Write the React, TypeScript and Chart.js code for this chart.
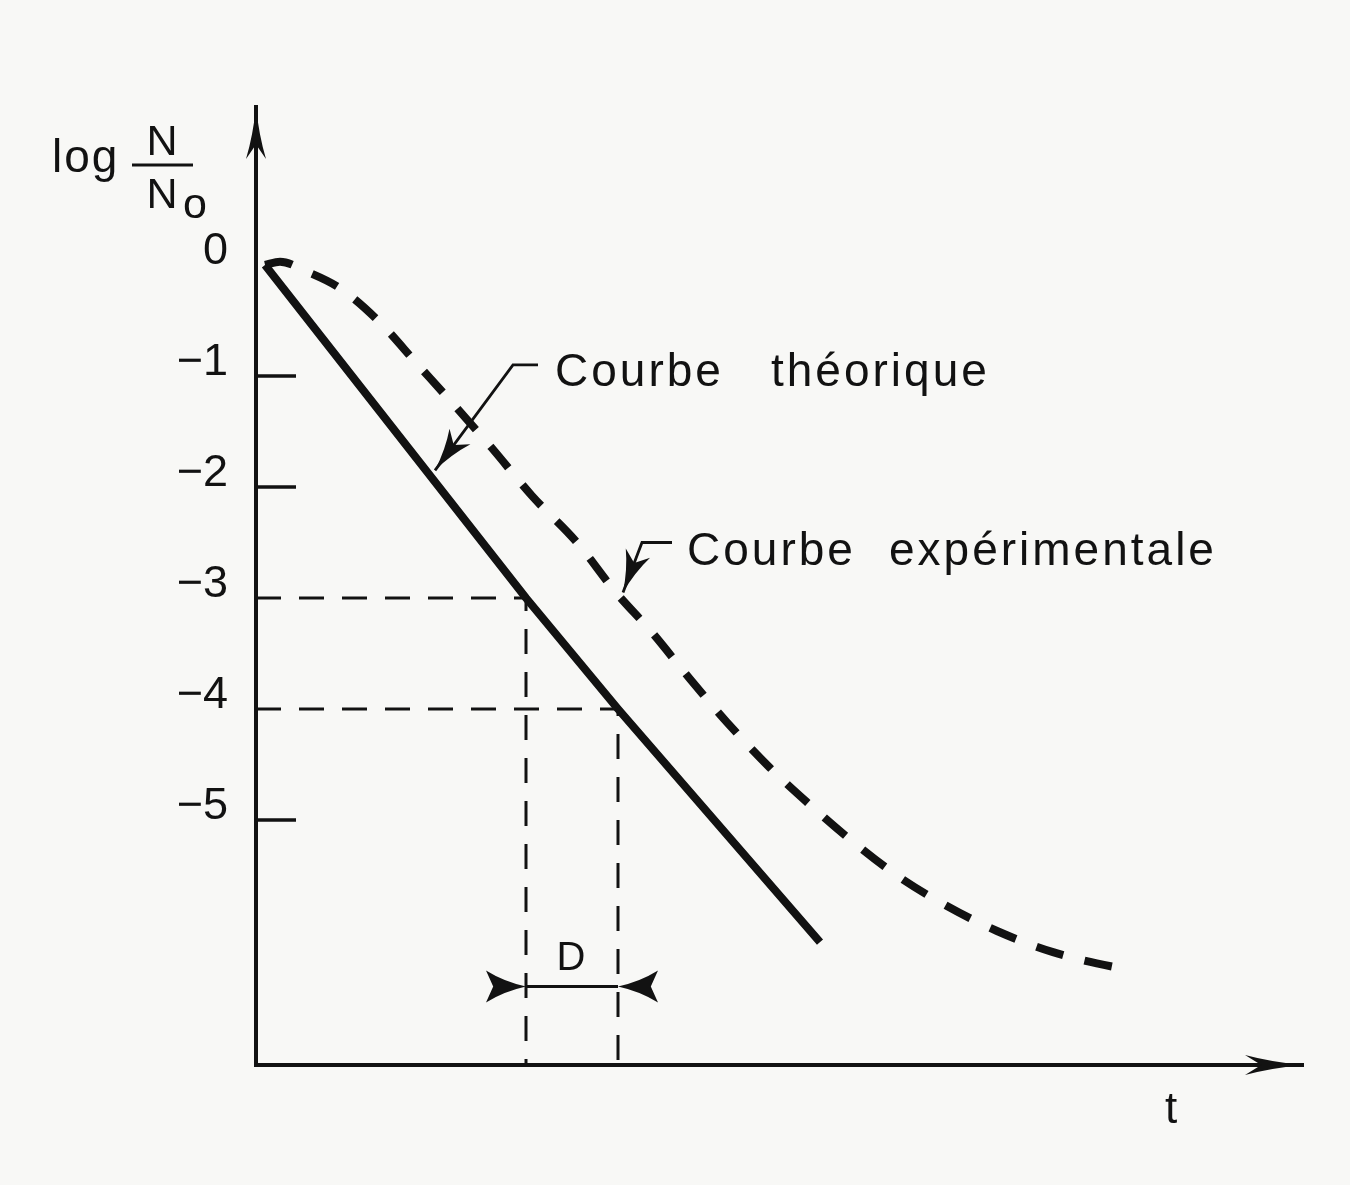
import React, { useEffect, useRef } from 'react';
import { Chart, registerables } from 'chart.js';

Chart.register(...registerables);

const INK = '#121212';
const FONT = '"Liberation Sans", Arial, sans-serif';

// Axis ranges (t arbitrary units, log N/N0)
const X_MIN = 0;
const X_MAX = 10.47;
const Y_MIN = -7.207;
const Y_MAX = 1.423;

// Y tick values
const yTickValues = [0, -1, -2, -3, -4, -5];

// Courbe théorique (straight line)
const theoT = [0.09, 2.7, 3.62, 5.64];
const theoLogN = [0, -3, -4, -6.1];

// Courbe expérimentale (dashed, shoulder and tail)
const expT = [0.09, 0.24, 0.51, 0.84, 1.23, 1.62, 1.96, 2.35, 2.76, 3.21, 3.59, 3.96, 4.34, 4.71, 5.14, 5.51, 5.92, 6.41, 6.88, 7.41, 7.97, 8.56, 8.76];
const expLogN = [0, 0.03, -0.06, -0.21, -0.51, -0.9, -1.24, -1.64, -2.08, -2.5, -2.94, -3.31, -3.73, -4.12, -4.53, -4.84, -5.16, -5.5, -5.76, -6.0, -6.19, -6.32, -6.35];

// Decimal reduction construction (D)
const dLevels = [-3, -4];
const dTimes = [2.7, 3.62];
const dArrowLevel = -6.5;

// Annotation anchors (data units)
const theoLabel = { word1: 'Courbe', word2: 'théorique', t1: 2.99, t2: 5.15, y: -1.09 };
const theoLeader = { t0: 2.82, t1: 2.57, y0: -0.9, tipT: 1.79, tipY: -1.85 };
const expLabel = { word1: 'Courbe', word2: 'expérimentale', t1: 4.31, t2: 6.33, y: -2.7 };
const expLeader = { t0: 4.16, t1: 3.86, y0: -2.5, tipT: 3.67, tipY: -2.95 };
const dLabel = { text: 'D', t: 3.15, y: -6.35 };
const tLabel = { text: 't', t: 9.15, y: -7.73 };

function drawArrow(ctx: CanvasRenderingContext2D, tx: number, ty: number, dx: number, dy: number, len: number, hw: number, notch: number) {
  const px = -dy, py = dx;
  const bx = tx - dx * len, by = ty - dy * len;
  const ix = tx - dx * len * notch, iy = ty - dy * len * notch;
  const cx = tx - dx * len * 0.55, cy = ty - dy * len * 0.55;
  ctx.beginPath();
  ctx.moveTo(tx, ty);
  ctx.quadraticCurveTo(cx + px * hw * 0.3, cy + py * hw * 0.3, bx + px * hw, by + py * hw);
  ctx.lineTo(ix, iy);
  ctx.lineTo(bx - px * hw, by - py * hw);
  ctx.quadraticCurveTo(cx - px * hw * 0.3, cy - py * hw * 0.3, tx, ty);
  ctx.closePath();
  ctx.fill();
}

const decorPlugin = {
  id: 'decor',
  beforeDraw(chart: any) {
    const { ctx, width, height } = chart;
    ctx.save();
    ctx.fillStyle = '#f8f8f6';
    ctx.fillRect(0, 0, width, height);
    ctx.restore();
  },
  afterDraw(chart: any) {
    const { ctx, chartArea: ca } = chart;
    const xs = chart.scales.x;
    const ys = chart.scales.y;
    const X = (v: number) => xs.getPixelForValue(v);
    const Y = (v: number) => ys.getPixelForValue(v);
    ctx.save();
    ctx.fillStyle = INK;
    ctx.strokeStyle = INK;

    // axis arrowheads
    drawArrow(ctx, ca.left, ca.top, 0, -1, 52, 10, 0.72);
    drawArrow(ctx, ca.right, ca.bottom, 1, 0, 58, 10, 0.72);

    // tick marks (inside)
    ctx.lineWidth = 3.5;
    yTickValues.forEach((v) => {
      if (v === 0 || dLevels.includes(v)) return;
      ctx.beginPath();
      ctx.moveTo(ca.left, Y(v));
      ctx.lineTo(ca.left + 40, Y(v));
      ctx.stroke();
    });

    // leaders
    const leader = (L: any) => {
      const ex = X(L.t1), ey = Y(L.y0);
      const tx = X(L.tipT), ty = Y(L.tipY);
      ctx.lineWidth = 2.8;
      ctx.beginPath();
      ctx.moveTo(X(L.t0), ey);
      ctx.lineTo(ex, ey);
      ctx.lineTo(tx, ty);
      ctx.stroke();
      const dx = tx - ex, dy = ty - ey;
      const n = Math.hypot(dx, dy);
      drawArrow(ctx, tx, ty, dx / n, dy / n, 42, 13, 0.75);
    };
    leader(theoLeader);
    leader(expLeader);

    // D arrows
    drawArrow(ctx, X(dTimes[0]), Y(dArrowLevel), 1, 0, 40, 16, 0.82);
    drawArrow(ctx, X(dTimes[1]), Y(dArrowLevel), -1, 0, 40, 16, 0.82);

    // texts
    ctx.textBaseline = 'alphabetic';
    ctx.textAlign = 'left';
    (ctx as any).letterSpacing = '3px';
    ctx.font = `46px ${FONT}`;
    ctx.fillText(theoLabel.word1, X(theoLabel.t1), Y(theoLabel.y));
    ctx.fillText(theoLabel.word2, X(theoLabel.t2), Y(theoLabel.y));
    ctx.fillText(expLabel.word1, X(expLabel.t1), Y(expLabel.y));
    ctx.fillText(expLabel.word2, X(expLabel.t2), Y(expLabel.y));

    (ctx as any).letterSpacing = '0px';
    ctx.textAlign = 'center';
    ctx.font = `40px ${FONT}`;
    ctx.fillText(dLabel.text, X(dLabel.t), Y(dLabel.y));
    ctx.font = `44px ${FONT}`;
    ctx.fillText(tLabel.text, X(tLabel.t), Y(tLabel.y));

    // y axis title: log N / No
    ctx.textAlign = 'left';
    (ctx as any).letterSpacing = '2px';
    ctx.font = `46px ${FONT}`;
    ctx.fillText('log', 52, 172);
    (ctx as any).letterSpacing = '0px';
    ctx.font = `43px ${FONT}`;
    ctx.textAlign = 'center';
    ctx.fillText('N', 162, 155);
    ctx.fillText('N', 162, 208);
    ctx.textAlign = 'left';
    ctx.fillText('o', 183, 218);
    ctx.lineWidth = 3;
    ctx.beginPath();
    ctx.moveTo(132, 165);
    ctx.lineTo(193, 165);
    ctx.stroke();

    ctx.restore();
  },
};

export default function App() {
  const ref = useRef<HTMLCanvasElement>(null);

  useEffect(() => {
    if (!ref.current) return;
    const theo = theoT.map((t, i) => ({ x: t, y: theoLogN[i] }));
    const exp = expT.map((t, i) => ({ x: t, y: expLogN[i] }));
    const construction = dLevels.map((lv, i) => ({
      data: [
        { x: X_MIN, y: lv },
        { x: dTimes[i], y: lv },
        { x: dTimes[i], y: Y_MIN },
      ],
      borderColor: INK,
      borderWidth: 3,
      borderDash: [25, 18],
      pointRadius: 0,
      tension: 0,
      fill: false,
    }));

    const chart = new Chart(ref.current, {
      type: 'line',
      data: {
        datasets: [
          {
            label: 'Courbe théorique',
            data: theo,
            borderColor: INK,
            borderWidth: 8,
            pointRadius: 0,
            tension: 0,
            borderCapStyle: 'butt',
            fill: false,
          },
          {
            label: 'Courbe expérimentale',
            data: exp,
            borderColor: INK,
            borderWidth: 8,
            borderDash: [28, 22],
            pointRadius: 0,
            cubicInterpolationMode: 'monotone',
            borderCapStyle: 'butt',
            fill: false,
          },
          ...construction,
          {
            label: 'D',
            data: [
              { x: dTimes[0], y: dArrowLevel },
              { x: dTimes[1], y: dArrowLevel },
            ],
            borderColor: INK,
            borderWidth: 2.8,
            pointRadius: 0,
            fill: false,
          },
        ] as any,
      },
      options: {
        responsive: false,
        animation: false,
        devicePixelRatio: 1,
        layout: { padding: { top: 107, right: 47, left: 0, bottom: 0 } },
        plugins: { legend: { display: false }, tooltip: { enabled: false } },
        scales: {
          x: {
            type: 'linear',
            min: X_MIN,
            max: X_MAX,
            grid: { display: false, drawTicks: false },
            border: { display: true, color: INK, width: 4 },
            ticks: { display: false },
            afterFit: (s: any) => {
              s.height = 120;
            },
          },
          y: {
            type: 'linear',
            min: Y_MIN,
            max: Y_MAX,
            afterBuildTicks: (s: any) => {
              s.ticks = yTickValues.map((v) => ({ value: v }));
            },
            grid: { display: false, drawTicks: false },
            border: { display: true, color: INK, width: 4 },
            ticks: {
              color: INK,
              font: { family: FONT, size: 45 },
              padding: 28,
              labelOffset: -13,
              autoSkip: false,
              callback: (v: any) => (Number(v) === 0 ? '0' : '\u2212' + Math.abs(Number(v))),
            },
            afterFit: (s: any) => {
              s.width = 256;
            },
          },
        } as any,
      },
      plugins: [decorPlugin],
    });
    return () => chart.destroy();
  }, []);

  return (
    <div style={{ position: 'absolute', left: 0, top: 0, width: 1350, height: 1185 }}>
      <canvas ref={ref} width={1350} height={1185} style={{ display: 'block' }} />
    </div>
  );
}
